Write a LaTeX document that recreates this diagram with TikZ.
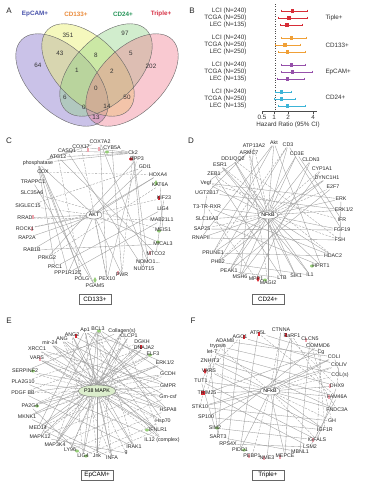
\documentclass[tikz,border=0pt]{standalone}
\usepackage{fontspec}
\setmainfont{Liberation Sans}
\usetikzlibrary{shapes.geometric}
\pgfdeclarelayer{bg}
\pgfsetlayers{bg,main}
\definecolor{vpur}{RGB}{150,135,210}
\definecolor{vyel}{RGB}{235,240,110}
\definecolor{vgrn}{RGB}{140,210,130}
\definecolor{vpnk}{RGB}{240,120,140}
\definecolor{tepc}{RGB}{70,80,170}
\definecolor{tcd1}{RGB}{235,140,60}
\definecolor{tcd2}{RGB}{40,150,90}
\definecolor{ttri}{RGB}{215,50,70}
\definecolor{fred}{RGB}{215,45,55}
\definecolor{forg}{RGB}{240,160,55}
\definecolor{fpur}{RGB}{150,80,170}
\definecolor{fcya}{RGB}{60,180,215}
\definecolor{mred}{RGB}{220,40,50}
\definecolor{mpnk}{RGB}{240,165,175}
\definecolor{mgrn}{RGB}{150,205,120}
\definecolor{hubg}{RGB}{220,238,205}
\newcommand\fsn{\fontsize{5.3}{6}\selectfont}
\newcommand\fsm{\fontsize{6.3}{7}\selectfont}
\newcommand\fsl{\fontsize{8}{9}\selectfont}
\begin{document}
\begin{tikzpicture}[x=1pt,y=-1pt,
  lbl/.style={font=\fsn, inner sep=0.6pt, text=black!85},
  ln/.style={draw=black!38, line width=0.35pt},
  dl/.style={draw=black!38, line width=0.35pt, dash pattern=on 2.2pt off 1.3pt},
  hub/.style={ellipse, draw=black!55, fill=white, font=\fsn, inner sep=0.4pt, minimum width=16pt, minimum height=8pt},
  boxs/.style={draw=black!60, font=\fsm, minimum width=32pt, minimum height=10pt, inner sep=1pt},
  mk/.style={rectangle, fill=#1, inner sep=0, minimum width=2.2pt, minimum height=4.5pt},
  mkd/.style={diamond, fill=#1, inner sep=0, minimum width=3.5pt, minimum height=6pt},
  mke/.style={ellipse, fill=#1, inner sep=0, minimum width=4pt, minimum height=3pt},
  vnum/.style={font=\fsm, text=black!80},
  plet/.style={font=\fsl, text=black!85},
  rowl/.style={font=\fsm, anchor=east, text=black!80},
  grpl/.style={font=\fsm, anchor=west, text=black!80}]
\useasboundingbox (0,0) rectangle (368,482);
\begin{pgfonlayer}{bg}
\fill[white] (0,0) rectangle (368,482);
\end{pgfonlayer}

% ---------------- Panel A ----------------
\node[plet] (pA) at (9,11) {A};
\node[font=\fsm\bfseries, text=tepc] (tA1) at (35,14) {EpCAM+};
\node[font=\fsm\bfseries, text=tcd1] (tA2) at (76,14) {CD133+};
\node[font=\fsm\bfseries, text=tcd2] (tA3) at (123,14) {CD24+};
\node[font=\fsm\bfseries, text=ttri] (tA4) at (161,14) {Triple+};
\fill[vpur, fill opacity=.5, rotate around={-45:(62,80)}] (62,80) ellipse (57 and 32);
\fill[vyel, fill opacity=.45, rotate around={-45:(88,70)}] (88,70) ellipse (57 and 32);
\fill[vgrn, fill opacity=.4, rotate around={45:(106,70)}] (106,70) ellipse (57 and 32);
\fill[vpnk, fill opacity=.4, rotate around={45:(132,80)}] (132,80) ellipse (57 and 32);
\begin{scope}[draw=black!60, line width=0.4pt]
\draw[rotate around={-45:(62,80)}] (62,80) ellipse (57 and 32);
\draw[rotate around={-45:(88,70)}] (88,70) ellipse (57 and 32);
\draw[rotate around={45:(106,70)}] (106,70) ellipse (57 and 32);
\draw[rotate around={45:(132,80)}] (132,80) ellipse (57 and 32);
\end{scope}
\node[vnum] (n1) at (68,35) {351};
\node[vnum] (n2) at (125,33) {97};
\node[vnum] (n3) at (38,65) {64};
\node[vnum] (n4) at (60,53) {43};
\node[vnum] (n5) at (96,55) {8};
\node[vnum] (n6) at (131,53) {5};
\node[vnum] (n7) at (151,66) {202};
\node[vnum] (n8) at (77,70) {1};
\node[vnum] (n9) at (112,71) {2};
\node[vnum] (n10) at (96,88) {0};
\node[vnum] (n11) at (65,97) {6};
\node[vnum] (n12) at (127,97) {50};
\node[vnum] (n13) at (84,107) {0};
\node[vnum] (n14) at (107,106) {14};
\node[vnum] (n15) at (96,117) {13};

% ---------------- Panel B ----------------
\node[plet] (pB) at (192,11) {B};
\draw[dotted, black!70, line width=0.45pt] (275,4) -- (275,111);
\draw[black!70, line width=0.45pt] (262,111) -- (317,111);
\foreach \x/\l in {262/0.5,274/1,288/2,313/4} {
  \draw[black!70, line width=0.45pt] (\x,111) -- (\x,113.5);
  \node[font=\fsm, text=black!80] at (\x,117.5) {\l};
}
\node[font=\fsm, text=black!80] (bax) at (288,125) {Hazard Ratio (95\% CI)};
\foreach \y/\lab/\c/\lo/\m/\hi in {
  11/LCI (N=240)/fred/281.7/292.3/307.7,
  18/TCGA (N=250)/fred/278.3/289/307.7,
  25/LEC (N=135)/fred/280/287/302.3,
  38/LCI (N=240)/forg/281.7/291.7/306.7,
  45/TCGA (N=250)/forg/275/285/300,
  52/LEC (N=250)/forg/278.3/287.7/305,
  65/LCI (N=240)/fpur/281.7/291.7/305.7,
  72/TCGA (N=250)/fpur/281/292.3/312.3,
  79/LEC (N=135)/fpur/277.7/287.7/304.3,
  92/LCI (N=240)/fcya/275.7/281.7/291,
  99/TCGA (N=250)/fcya/274.3/281.7/295.7,
  106/LEC (N=135)/fcya/278.3/287.7/305} {
  \node[rowl] at (250,\y) {\lab};
  \draw[\c, line width=0.6pt] (\lo,\y) -- (\hi,\y);
  \draw[\c, line width=0.6pt] (\lo,\y-1.3) -- (\lo,\y+1.3);
  \draw[\c, line width=0.6pt] (\hi,\y-1.3) -- (\hi,\y+1.3);
  \fill[\c] (\m-1.7,\y-1.7) rectangle (\m+1.7,\y+1.7);
}
\node[grpl] (g1) at (322,18) {Tiple+};
\node[grpl] (g2) at (322,45) {CD133+};
\node[grpl] (g3) at (322,72) {EpCAM+};
\node[grpl] (g4) at (322,97) {CD24+};

% ---------------- Panel C ----------------
\node[plet] (pC) at (9,141) {C};
\node[mk=mpnk] (cm1) at (88,150) {};
\node[mk=mpnk] (cm2) at (99,149) {};
\node[mke=mgrn] (cm3) at (107,152) {};
\node[mke=mred] (cm4) at (131,159) {};
\node[mkd=mgrn] (cm5) at (156,183) {};
\node[mk=mred] (cm6) at (159,198) {};
\node[mk=mpnk] (cm7) at (33,217) {};
\node[mk=mpnk] (cm8) at (32,229) {};
\node[mke=mgrn] (cm9) at (159,231) {};
\node[mke=mgrn] (cm10) at (158,242) {};
\node[mk=mpnk] (cm11) at (150,253) {};
\node[mk=mpnk] (cm12) at (118,273) {};
\node[mkd=mgrn] (cm13) at (95,280) {};
\node[lbl] (c1) at (100,142) {COX7A2};
\node[lbl] (c2) at (81,147) {COX17};
\node[lbl] (c3) at (112,148) {CYB5A};
\node[lbl] (c4) at (67,151) {CASQ1};
\node[lbl] (c5) at (133,153) {Ck2};
\node[lbl] (c6) at (58,157) {ATG12};
\node[lbl] (c7) at (137,159) {BPP3};
\node[lbl] (c8) at (38,163) {phosphatase};
\node[lbl] (c9) at (145,167) {GDI1};
\node[lbl] (c10) at (43,172) {COX};
\node[lbl] (c11) at (158,175) {HOXA4};
\node[lbl] (c12) at (33,182) {TRAPPC1};
\node[lbl] (c13) at (160,185) {KAT6A};
\node[lbl] (c14) at (32,193) {SLC35A6};
\node[lbl] (c15) at (164,198) {KIF23};
\node[lbl] (c16) at (28,206) {SIGLEC15};
\node[lbl] (c17) at (163,209) {LIG4};
\node[lbl] (c18) at (25,218) {RRAD};
\node[lbl] (c19) at (162,220) {MAB21L1};
\node[lbl] (c20) at (25,229) {ROCK1};
\node[lbl] (c21) at (163,230) {MEIS1};
\node[lbl] (c22) at (27,238) {RAP2A};
\node[lbl] (c23) at (163,244) {MICAL3};
\node[lbl] (c24) at (32,250) {RAB1B};
\node[lbl] (c25) at (156,254) {MTCO2};
\node[lbl] (c26) at (47,258) {PRKG2};
\node[lbl] (c27) at (148,262) {NOMO1...};
\node[lbl] (c28) at (55,267) {PRC1};
\node[lbl] (c29) at (144,269) {NUDT15};
\node[lbl] (c30) at (68,273) {PPP1R12C};
\node[lbl] (c31) at (122,275) {PWR};
\node[lbl] (c32) at (82,279) {POLG};
\node[lbl] (c33) at (107,279) {PEX10};
\node[lbl] (c34) at (95,286) {PGAM5};
\node[hub] (cakt) at (94,215) {AKT};
\node[boxs] (cbox) at (95,299) {CD133+};
\begin{pgfonlayer}{bg}
\foreach \a/\b in {c8/c5,c8/c1,c8/c2,c8/cakt,c8/c32,c8/c34,c8/c30,c8/c28,c6/c5,c4/c5,c2/c5,c3/c5,c5/c29,c5/c27,c1/c33,c3/c31,c7/c26,c11/c24,c9/cakt,c11/cakt,cakt/c18,cakt/c20,cakt/c22,cakt/c23,cakt/c30,cakt/c31,cakt/c33,c10/c32,c12/c34,c24/c23,c17/c28,c19/c30,c15/c25,c13/c21,c6/c25,c7/c33,c4/c29,c1/c27}
  \draw[ln] (\a) -- (\b);
\foreach \a/\b in {c16/cakt,c14/c21,c15/c20,c9/c16,c2/c33,c10/c11,c18/c19,c6/c32,c5/c31,c13/c26}
  \draw[dl] (\a) -- (\b);
\end{pgfonlayer}

% ---------------- Panel D ----------------
\node[plet] (pD) at (191,141) {D};
\node[mkd=mred] (dm1) at (258,279) {};
\node[mke=mgrn] (dm2) at (265,280) {};
\node[mke=mgrn] (dm3) at (312,266) {};
\node[lbl] (d1) at (274,143) {Akt};
\node[lbl] (d2) at (254,146) {ATP13A2};
\node[lbl] (d3) at (288,145) {CD3};
\node[lbl] (d4) at (249,153) {ARMC7};
\node[lbl] (d5) at (297,154) {CD3E};
\node[lbl] (d6) at (233,159) {DD1/QQ2};
\node[lbl] (d7) at (311,160) {CLDN3};
\node[lbl] (d8) at (220,165) {ESR1};
\node[lbl] (d9) at (322,169) {CYP1A1};
\node[lbl] (d10) at (214,174) {ZEB1};
\node[lbl] (d11) at (327,178) {DYNC1H1};
\node[lbl] (d12) at (206,183) {Vegf};
\node[lbl] (d13) at (333,187) {E2F7};
\node[lbl] (d14) at (207,193) {UGT2B17};
\node[lbl] (d15) at (341,199) {ERK};
\node[lbl] (d16) at (207,207) {T3-TR-RXR};
\node[lbl] (d17) at (344,210) {ERK1/2};
\node[lbl] (d18) at (207,219) {SLC16A3};
\node[lbl] (d19) at (342,220) {IFR};
\node[lbl] (d20) at (202,229) {SAP25};
\node[lbl] (d21) at (342,230) {FGF19};
\node[lbl] (d22) at (201,238) {RNAPII};
\node[lbl] (d23) at (340,240) {FSH};
\node[lbl] (d24) at (213,253) {PRUNE1};
\node[lbl] (d25) at (333,256) {HDAC2};
\node[lbl] (d26) at (218,262) {PHB2};
\node[lbl] (d27) at (321,266) {HPRT1};
\node[lbl] (d28) at (229,271) {PEAK1};
\node[lbl] (d29) at (310,275) {IL1};
\node[lbl] (d30) at (240,277) {MSH6};
\node[lbl] (d31) at (256,279) {MPP1};
\node[lbl] (d32) at (268,283) {MAGI2};
\node[lbl] (d33) at (282,278) {LTB};
\node[lbl] (d34) at (296,276) {SIK1};
\node[hub] (dnf) at (268,215) {NFkB};
\node[boxs] (dbox) at (268,299) {CD24+};
\begin{pgfonlayer}{bg}
\foreach \a in {d1,d3,d4,d6,d8,d12,d16,d18,d22,d24,d28,d30,d32,d33,d34,d29,d27,d25,d21,d17,d15,d11,d7,d5}
  \draw[ln] (dnf) -- (\a);
\foreach \a in {d10,d20,d26,d23,d13,d9,d2}
  \draw[dl] (dnf) -- (\a);
\foreach \a/\b in {d1/d22,d1/d24,d2/d30,d3/d26,d5/d28,d12/d15,d14/d17,d16/d25,d18/d27,d20/d21,d22/d23,d24/d25,d1/d27,d7/d31,d9/d30,d11/d26,d13/d28,d6/d34,d8/d29,d10/d33,d2/d14,d4/d12,d14/d20,d3/d21,d5/d19,d26/d29,d28/d33,d15/d23}
  \draw[ln] (\a) -- (\b);
\foreach \a/\b in {d6/d23,d8/d25,d12/d19,d16/d31,d4/d32,d3/d24}
  \draw[dl] (\a) -- (\b);
\end{pgfonlayer}

% ---------------- Panel E ----------------
\node[plet] (pE) at (9,321) {E};
\node[mk=mred] (em1) at (76,336) {};
\node[mk=mred] (em2) at (141,347) {};
\node[mk=mpnk] (em3) at (40,359) {};
\node[mke=mgrn] (em4) at (33,371) {};
\node[mke=mgrn] (em5) at (37,406) {};
\node[mke=mgrn] (em6) at (99,331) {};
\node[mke=mgrn] (em7) at (77,451) {};
\node[mke=mgrn] (em8) at (86,456) {};
\node[mke=mgrn] (em9) at (150,355) {};
\node[mke=mgrn] (em10) at (147,430) {};
\node[lbl] (e1) at (85,330) {Ap1};
\node[lbl] (e2) at (98,329) {BCL3};
\node[lbl] (e3) at (122,331) {Collagen(s)};
\node[lbl] (e4) at (72,335) {ANG2};
\node[lbl] (e5) at (129,336) {CLCP1};
\node[lbl] (e6) at (62,339) {ANG};
\node[lbl] (e7) at (142,342) {DGKH};
\node[lbl] (e8) at (50,343) {mir-24};
\node[lbl] (e9) at (144,347.5) {DNAJA2};
\node[lbl] (e10) at (37,349) {XRCC1};
\node[lbl] (e11) at (153,354) {ELF3};
\node[lbl] (e12) at (37,358) {VARS};
\node[lbl] (e13) at (165,363) {ERK1/2};
\node[lbl] (e14) at (25,371) {SERPINF2};
\node[lbl] (e15) at (168,374) {GCDH};
\node[lbl] (e16) at (23,382) {PLA2G10};
\node[lbl] (e17) at (168,386) {GMPR};
\node[lbl] (e18) at (23,393) {PDGF BB};
\node[lbl] (e19) at (168,397) {Gm-csf};
\node[lbl] (e20) at (30,406) {PA2G4};
\node[lbl] (e21) at (168,410) {HSPA8};
\node[lbl] (e22) at (27,417) {MKNK1};
\node[lbl] (e23) at (163,421) {Hsp70};
\node[lbl] (e24) at (38,428) {MED14};
\node[lbl] (e25) at (158,430) {IFNLR1};
\node[lbl] (e26) at (40,437) {MAPK12};
\node[lbl] (e27) at (162,440) {IL12 (complex)};
\node[lbl] (e28) at (55,445) {MAP3K4};
\node[lbl] (e29) at (134,447) {IRAK1};
\node[lbl] (e30) at (70,450) {LY96};
\node[lbl] (e31) at (83,456) {LIG4};
\node[lbl] (e32) at (97,456) {Jnk};
\node[lbl] (e33) at (112,458) {INFA};
\node[lbl] (e34) at (126,453) {g};
\node[hub, fill=hubg, minimum width=33pt, minimum height=12pt] (ep) at (97,391) {P38 MAPK};
\node[boxs] (ebox) at (97,475) {EpCAM+};
\begin{pgfonlayer}{bg}
\foreach \a in {e1,e2,e4,e8,e12,e16,e20,e24,e28,e31,e32,e33,e29,e25,e21,e17,e13,e9,e5}
  \draw[ln] (ep) -- (\a);
\foreach \a in {e3,e6,e10,e14,e18,e22,e26,e30,e34,e27,e23,e19,e15,e11,e7}
  \draw[dl] (ep) -- (\a);
\foreach \a/\b in {e1/e33,e2/e31,e3/e30,e4/e29,e5/e28,e6/e27,e7/e26,e8/e25,e9/e24,e10/e23,e11/e22,e12/e21,e13/e20,e14/e19,e15/e18,e1/e13,e2/e15,e3/e14,e4/e17,e6/e19,e8/e21,e10/e17,e12/e25,e16/e27,e18/e29,e20/e31,e22/e33,e24/e32,e26/e34,e1/e24,e2/e26,e3/e28,e2/e23,e1/e21}
  \draw[ln] (\a) -- (\b);
\foreach \a/\b in {e5/e12,e7/e16,e9/e18,e11/e20,e13/e22,e15/e24,e17/e26,e19/e28,e21/e30,e23/e31,e25/e32,e2/e33,e1/e32,e3/e32,e4/e31,e2/e28,e2/e29,e1/e27,e3/e25,e6/e33}
  \draw[dl] (\a) -- (\b);
\end{pgfonlayer}

% ---------------- Panel F ----------------
\node[plet] (pF) at (193,321) {F};
\node[mk=mred] (fm1) at (259,334) {};
\node[mk=mred] (fm2) at (244,337) {};
\node[mk=mred] (fm3) at (286,335) {};
\node[mk=mpnk] (fm4) at (306,340) {};
\node[mk=mpnk] (fm5) at (330,386) {};
\node[mk=mpnk] (fm6) at (329,397) {};
\node[mkd=mred] (fm7) at (205,371) {};
\node[mk=mred, minimum width=4pt] (fm8) at (203,393) {};
\node[mk=mpnk] (fm9) at (313,440) {};
\node[mke=mgrn] (fm10) at (217,428) {};
\node[mke=mgrn] (fm11) at (244,450) {};
\node[mk=mpnk] (fm12) at (280,457) {};
\node[mk=mpnk] (fm13) at (264,458) {};
\node[mk=mpnk] (fm14) at (249,456) {};
\node[lbl] (f1) at (281,330) {CTNNA};
\node[lbl] (f2) at (258,333) {ATP5L};
\node[lbl] (f3) at (292,335.5) {RaRF1};
\node[lbl] (f4) at (240,337) {AGO1};
\node[lbl] (f5) at (310,339) {CLCN5};
\node[lbl] (f6) at (225,341) {ADAM8};
\node[lbl] (f7) at (318,345.5) {COMMD6};
\node[lbl] (f8) at (218,346) {trypsin};
\node[lbl] (f9) at (321,352) {Cg};
\node[lbl] (f10) at (212,352) {let-7};
\node[lbl] (f11) at (334,357) {COLI};
\node[lbl] (f12) at (210,361) {ZNHIT3};
\node[lbl] (f13) at (339,365) {COLIV};
\node[lbl] (f14) at (209,371) {VARS};
\node[lbl] (f15) at (340,375) {COL(s)};
\node[lbl] (f16) at (201,381) {TUT1};
\node[lbl] (f17) at (337,386) {DHX9};
\node[lbl] (f18) at (207,393) {TRIM25};
\node[lbl] (f19) at (337,397) {FAM46A};
\node[lbl] (f20) at (200,407) {STK10};
\node[lbl] (f21) at (337,410) {FNDC3A};
\node[lbl] (f22) at (206,417) {SP100};
\node[lbl] (f23) at (332,421) {GH};
\node[lbl] (f24) at (215,428) {SIM2};
\node[lbl] (f25) at (325,430) {IGF1R};
\node[lbl] (f26) at (218,437) {SART3};
\node[lbl] (f27) at (317,440) {IGFALS};
\node[lbl] (f28) at (228,444) {RPS4X};
\node[lbl] (f29) at (310,447) {LSM2};
\node[lbl] (f30) at (240,450) {PIDD1};
\node[lbl] (f31) at (300,452) {MBNL1};
\node[lbl] (f32) at (252,456) {PEBP1};
\node[lbl] (f33) at (267,458) {NME3};
\node[lbl] (f34) at (285,456) {MEPCE};
\node[hub] (fnf) at (270,391) {NFkB};
\node[boxs] (fbox) at (268,475) {Triple+};
\begin{pgfonlayer}{bg}
\foreach \a in {f12,f16,f18,f20,f11,f17,f19,f21,f3,f25,f30,f34}
  \draw[ln] (fnf) -- (\a);
\foreach \a in {f14,f13,f15,f23,f8,f1,f27,f32}
  \draw[dl] (fnf) -- (\a);
\foreach \a/\b in {f1/f33,f2/f30,f3/f34,f4/f28,f5/f31,f6/f26,f7/f24,f9/f18,f10/f17,f11/f22,f12/f19,f13/f20,f14/f25,f16/f27,f18/f29,f20/f23,f22/f25,f24/f27,f26/f31,f28/f29,f8/f15,f6/f11,f2/f9,f4/f13,f10/f21,f12/f26,f16/f24,f17/f27,f19/f29}
  \draw[ln] (\a) -- (\b);
\foreach \a/\b in {f1/f17,f2/f19,f3/f21,f5/f23,f7/f25,f9/f27,f4/f14,f6/f16,f8/f18,f10/f20,f11/f15,f13/f17}
  \draw[dl] (\a) -- (\b);
\end{pgfonlayer}
\end{tikzpicture}
\end{document}
